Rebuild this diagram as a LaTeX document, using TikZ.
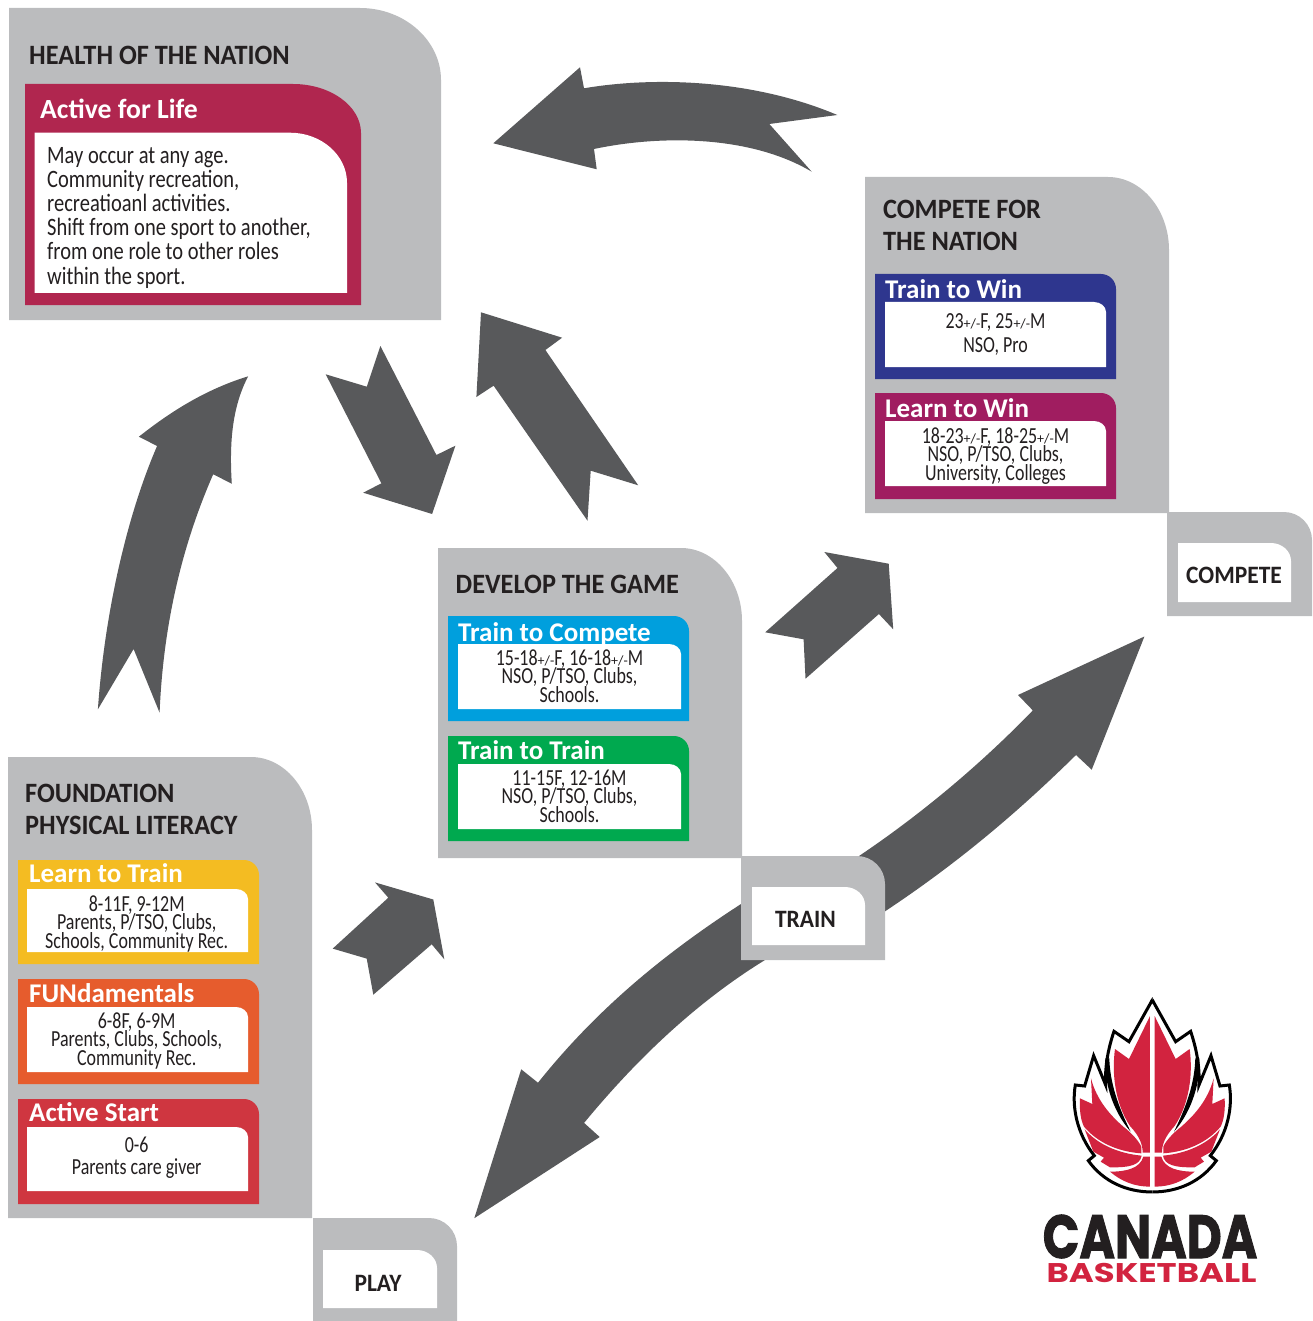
\documentclass[tikz,border=0pt]{standalone}
\usepackage{fontspec}
\newfontfamily\bodyfont[FakeStretch=0.82]{Carlito}
\newfontfamily\cardfont[FakeStretch=0.78]{Carlito}
\newfontfamily\headfont[FakeStretch=0.94]{Carlito}
\newfontfamily\bandfont{Carlito}
\newfontfamily\logofont[BoldFeatures={FakeBold=1.6}]{Poppins}
\newfontfamily\logosmallfont{Poppins}

\definecolor{panelgray}{HTML}{BBBCBE}
\definecolor{arrowgray}{HTML}{58595B}
\definecolor{inktext}{HTML}{231F20}
\definecolor{lifered}{HTML}{B0264F}
\definecolor{winblue}{HTML}{2E368E}
\definecolor{winpurple}{HTML}{A01D60}
\definecolor{competeblue}{HTML}{009FDD}
\definecolor{traingreen}{HTML}{00A94F}
\definecolor{learnyellow}{HTML}{F4BC22}
\definecolor{funorange}{HTML}{E65C2D}
\definecolor{startred}{HTML}{CF3640}
\definecolor{leafred}{HTML}{D2233F}

% tight lines in the cards
\lineskiplimit=-20pt
\normallineskiplimit=-20pt

% filled box with one big corner: colour, x0, y0, x1, y1, rx, ry
\newcommand{\cornerbox}[7]{
	\fill[#1] (#2,#3) -- ({#4-#6},#3) .. controls ({#4-0.45*#6},#3) and (#4,{#3+0.45*#7}) .. (#4,{#3+#7}) -- (#4,#5) -- (#2,#5) -- cycle;
}
\newcommand{\pmsmall}{{\bandfont\fontsize{14}{14}\selectfont +/-}}
\newcommand{\leafpath}{(277,30) -- (207,155) -- (162,124) .. controls (140,190) and (135,240) .. (137,285) -- (101,197) -- (74,288) -- (46,285) .. controls (35,350) and (50,430) .. (103,497) -- (85,512) .. controls (130,575) and (200,606) .. (277,606)}

\begin{document}
\begin{tikzpicture}[x=1pt, y=-1pt]

\tikzstyle{sectiontitle}=[anchor=base west, inner sep=0pt, text=inktext, font=\headfont\bfseries\fontsize{28}{32}\selectfont, align=left]
\tikzstyle{cardtitle}=[anchor=base west, inner sep=0pt, text=white, font=\bandfont\bfseries\fontsize{27}{27}\selectfont]
\tikzstyle{cardtext}=[anchor=base, inner sep=0pt, text=inktext, font=\cardfont\fontsize{23}{18.5}\selectfont, align=center]
\tikzstyle{tabtext}=[anchor=base, inner sep=0pt, text=inktext, font=\headfont\bfseries\fontsize{25}{25}\selectfont]
\tikzstyle{bigarrow}=[fill=arrowgray]

\useasboundingbox (0,0) rectangle (1312,1321);

%ARROWS
\fill[bigarrow] (493.3,143.3) -- (580,67.3) -- (584,88.3) .. controls (650,77) and (750,78) .. (837.3,115) -- (769.3,124) -- (811.7,171.7) .. controls (750,135) and (660,135) .. (594,149) -- (596.7,169.3) -- cycle;
\fill[bigarrow] (97.9,709.3) -- (133.6,649) -- (159.6,712.7) .. controls (163,630) and (180,550) .. (213.2,474.3) -- (231.8,483.7) .. controls (229,440) and (233,405) .. (248.2,376.3) .. controls (210,388) and (175,408) .. (138.9,436.7) -- (157.1,446) .. controls (125,520) and (104,620) .. (97.9,709.3) -- cycle;
\fill[bigarrow] (380.4,346) -- (436.4,455) -- (455.4,445.7) -- (432.1,514) -- (363.2,492.7) -- (381.4,483.3) -- (325.7,374.3) -- (366.8,386.7) -- cycle;
\fill[bigarrow] (481,312.3) -- (562.1,337.7) -- (545.4,350) -- (638.2,485.3) -- (590.7,470.7) -- (587.5,520.7) -- (493.6,385.7) -- (476.4,397) -- cycle;
\fill[bigarrow] (824.3,552) -- (888.7,563.7) -- (893.2,629.3) -- (878.9,614) -- (805.5,678.7) -- (803.6,639.3) -- (765.2,632.3) -- (837.5,568) -- cycle;
\fill[bigarrow] (375,882.4) -- (433.3,899.5) -- (444.3,959.3) -- (431.7,944.3) -- (373.3,994.7) -- (366.7,958.6) -- (332.7,948.6) -- (388.3,897.7) -- cycle;
\fill[bigarrow] (1144.4,636.5) -- (1018,695) -- (1032.8,710.4) .. controls (980,765) and (920,815) .. (859,856) -- (741,904) .. controls (670,950) and (600,1005) .. (538,1082.7) -- (521.2,1069.3) -- (474.3,1218.2) -- (599.7,1137) -- (584.1,1122.9) .. controls (640,1055) and (700,1000) .. (765,960) -- (884,912) .. controls (955,865) and (1015,815) .. (1076,755) -- (1091.7,769.7) -- cycle;

%PANELS
\cornerbox{panelgray}{9}{8}{441}{320}{81}{72}
\cornerbox{lifered}{25}{84}{361}{305}{68}{49}
\cornerbox{white}{34.7}{132.7}{347}{293}{57}{50}

\cornerbox{panelgray}{865}{177}{1169}{513}{61}{73}
\cornerbox{winblue}{875}{274}{1116}{379}{15}{15}
\cornerbox{white}{885}{302}{1106}{367}{12}{10}
\cornerbox{winpurple}{875}{393}{1116}{499}{15}{15}
\cornerbox{white}{885}{421}{1106}{486}{12}{10}
\cornerbox{panelgray}{1167}{512}{1312}{616}{28}{28}
\cornerbox{white}{1178}{543}{1291}{602}{20}{18}

\cornerbox{panelgray}{438}{548}{742}{858}{61}{73}
\cornerbox{competeblue}{448}{616}{689}{721}{15}{15}
\cornerbox{white}{458}{644}{681}{709}{12}{10}
\cornerbox{traingreen}{448}{736}{689}{841}{15}{15}
\cornerbox{white}{458}{764}{681}{829}{12}{10}
\cornerbox{panelgray}{741}{856}{885}{960}{28}{28}
\cornerbox{white}{752}{887}{865}{945}{20}{18}

\cornerbox{panelgray}{8}{757}{312}{1218}{61}{73}
\cornerbox{learnyellow}{18}{860}{259}{964}{15}{15}
\cornerbox{white}{27}{889}{248}{952}{12}{10}
\cornerbox{funorange}{18}{979}{259}{1084}{15}{15}
\cornerbox{white}{27}{1007}{248}{1072}{12}{10}
\cornerbox{startred}{18}{1099}{259}{1204}{15}{15}
\cornerbox{white}{27}{1127}{248}{1191}{12}{10}
\cornerbox{panelgray}{313}{1218}{457}{1321}{28}{28}
\cornerbox{white}{323}{1250}{437}{1308}{20}{18}

%NODES
\node[sectiontitle] (health) at (29,65) {HEALTH OF THE NATION};
\node[cardtitle, font=\bandfont\bfseries\fontsize{27.7}{27.7}\selectfont] (lifetitle) at (40,119) {Active for Life};
\node[cardtext, anchor=base west, align=left, font=\bodyfont\fontsize{25}{24}\selectfont] (lifetext) at (47,284) {May occur at any age.\\ Community recreation,\\ recreatioanl activities.\\ Shift from one sport to another,\\ from one role to other roles\\ within the sport.};

\node[sectiontitle] (compete) at (883,251) {COMPETE FOR\\ THE NATION};
\node[cardtitle] (wintitle) at (885,298.5) {Train to Win};
\node[cardtext] (wintext) at (995.5,352) {23\pmsmall F, 25\pmsmall M\\[5.5pt] NSO, Pro};
\node[cardtitle] (learnwintitle) at (885,417) {Learn to Win};
\node[cardtext] (learnwintext) at (995.5,480) {18-23\pmsmall F, 18-25\pmsmall M\\ NSO, P/TSO, Clubs,\\ University, Colleges};
\node[tabtext] (competetab) at (1234,583) {COMPETE};

\node[sectiontitle] (develop) at (455.5,593) {DEVELOP THE GAME};
\node[cardtitle] (comptitle) at (458,641) {Train to Compete};
\node[cardtext] (comptext) at (569.5,702) {15-18\pmsmall F, 16-18\pmsmall M\\ NSO, P/TSO, Clubs,\\ Schools.};
\node[cardtitle] (traintitle) at (458,759) {Train to Train};
\node[cardtext] (traintext) at (569.5,822) {11-15F, 12-16M\\ NSO, P/TSO, Clubs,\\ Schools.};
\node[tabtext] (traintab) at (805.5,927) {TRAIN};

\node[sectiontitle] (foundation) at (25,834) {FOUNDATION\\ PHYSICAL LITERACY};
\node[cardtitle] (learntitle) at (29,882) {Learn to Train};
\node[cardtext] (learntext) at (136.7,948) {8-11F, 9-12M\\ Parents, P/TSO, Clubs,\\ Schools, Community Rec.};
\node[cardtitle] (funtitle) at (29,1002) {FUNdamentals};
\node[cardtext] (funtext) at (136.7,1065) {6-8F, 6-9M\\ Parents, Clubs, Schools,\\ Community Rec.};
\node[cardtitle] (starttitle) at (29,1121) {Active Start};
\node[cardtext] (starttext) at (136.7,1174) {0-6\\[3pt] Parents care giver};
\node[tabtext] (playtab) at (378,1291) {PLAY};

%LOGO
\foreach \s in {1,-1}{
	\begin{scope}[shift={(1152.3,990)}, x=0.3333pt, y=-0.3333pt, xscale=\s, shift={(-277,0)}]
		\fill[white] \leafpath -- cycle;
		\draw[black, line width=3pt, miter limit=10] \leafpath;
		\fill[black] (277,21) -- (270,35) -- (277,42) -- cycle;
		\fill[black] (136,205) .. controls (132,270) and (155,360) .. (212,425) .. controls (175,350) and (150,280) .. (148,205) -- cycle;
		\fill[leafred] (270,78) -- (207,207) -- (165,177) .. controls (155,250) and (165,340) .. (210,408) .. controls (240,440) and (248,465) .. (248,488) -- (270,488) -- cycle;
		\fill[leafred] (93,265) -- (97,342) -- (60,325) .. controls (58,360) and (62,390) .. (72,410) .. controls (110,455) and (170,485) .. (244,490) -- (244,470) .. controls (235,450) and (210,425) .. (190,410) .. controls (150,375) and (110,330) .. (93,265) -- cycle;
		\fill[leafred] (74,418) .. controls (110,460) and (170,490) .. (245,497) .. controls (240,525) and (210,533) .. (150,532) -- (122,515) -- (132,503) -- (100,485) -- cycle;
		\fill[leafred] (150,545) .. controls (200,545) and (240,535) .. (250,500) -- (270,500) -- (270,590) .. controls (225,590) and (185,575) .. (150,545) -- cycle;
	\end{scope}
}
\node[anchor=base, inner sep=0pt, text=inktext, xscale=0.79, font=\logofont\bfseries\fontsize{61}{61}\selectfont] (canada) at (1150,1258) {CANADA};
\node[anchor=base, inner sep=0pt, text=leafred, xscale=1.256, font=\logosmallfont\bfseries\fontsize{27}{27}\selectfont] (basketball) at (1151.5,1282) {BASKETBALL};

\end{tikzpicture}
\end{document}
